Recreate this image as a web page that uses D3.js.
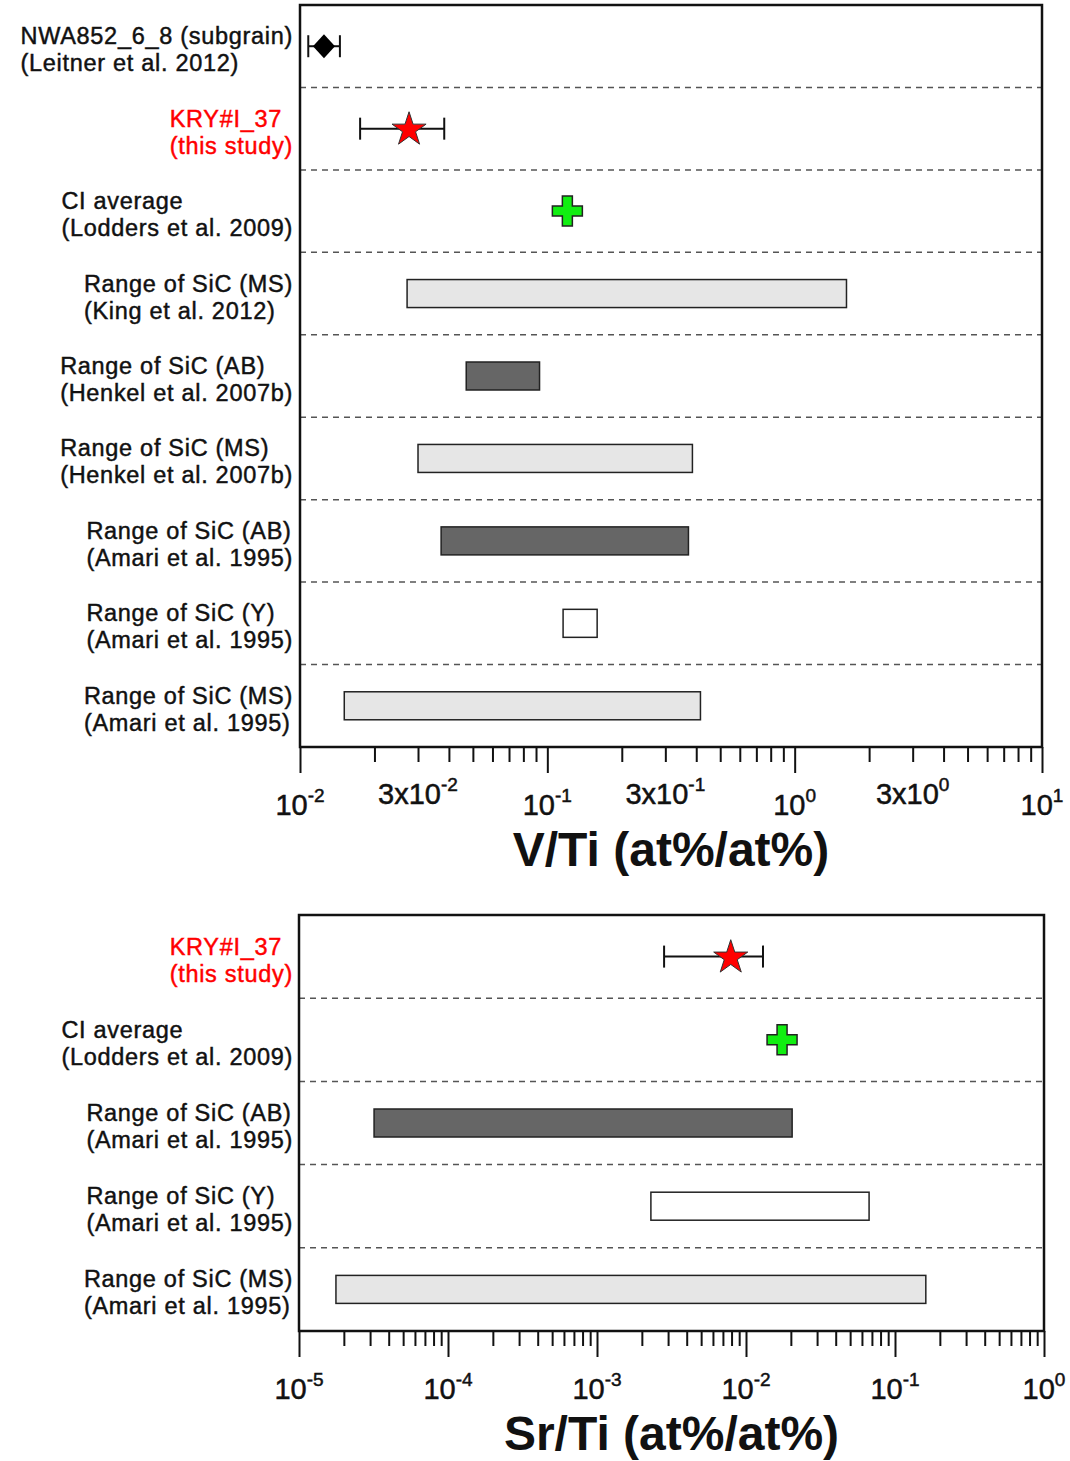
<!DOCTYPE html>
<html>
<head>
<meta charset="utf-8">
<script src="https://cdn.jsdelivr.net/npm/d3@7"></script>
<style>
body { margin: 0; background: #fff; }
svg { display: block; font-family: 'Liberation Sans', Arial, sans-serif; }
</style>
</head>
<body>
<script>
// V/Ti panel data
var vtiLabels = [
	['NWA852_6_8 (subgrain)', '(Leitner et al. 2012)'],
	['KRY#I_37', '(this study)'],
	['CI average', '(Lodders et al. 2009)'],
	['Range of SiC (MS)', '(King et al. 2012)'],
	['Range of SiC (AB)', '(Henkel et al. 2007b)'],
	['Range of SiC (MS)', '(Henkel et al. 2007b)'],
	['Range of SiC (AB)', '(Amari et al. 1995)'],
	['Range of SiC (Y)', '(Amari et al. 1995)'],
	['Range of SiC (MS)', '(Amari et al. 1995)']
];
var vtiKind = ['diamond', 'star', 'cross', 'ms', 'ab', 'ms', 'ab', 'y', 'ms'];
var vtiValue = [0.0125, 0.0276, 0.1205, null, null, null, null, null, null];
var vtiLow = [0.0108, 0.0175, null, 0.0271, 0.047, 0.030, 0.0372, 0.1158, 0.0151];
var vtiHigh = [0.0145, 0.0383, null, 1.62, 0.093, 0.386, 0.372, 0.159, 0.416];
var vtiTickValues = [0.01, 0.03, 0.1, 0.3, 1, 3, 10];
var vtiTickBase = ['10', '3x10', '10', '3x10', '10', '3x10', '10'];
var vtiTickExp = ['-2', '-2', '-1', '-1', '0', '0', '1'];

// Sr/Ti panel data
var srtiLabels = [
	['KRY#I_37', '(this study)'],
	['CI average', '(Lodders et al. 2009)'],
	['Range of SiC (AB)', '(Amari et al. 1995)'],
	['Range of SiC (Y)', '(Amari et al. 1995)'],
	['Range of SiC (MS)', '(Amari et al. 1995)']
];
var srtiKind = ['star', 'cross', 'ab', 'y', 'ms'];
var srtiValue = [0.0079, 0.01746, null, null, null];
var srtiLow = [0.00282, null, 3.19e-5, 0.0023, 1.77e-5];
var srtiHigh = [0.0130, null, 0.0204, 0.067, 0.161];
var srtiTickValues = [1e-5, 1e-4, 1e-3, 1e-2, 1e-1, 1];
var srtiTickBase = ['10', '10', '10', '10', '10', '10'];
var srtiTickExp = ['-5', '-4', '-3', '-2', '-1', '0'];

var fills = { ms: '#e6e6e6', ab: '#666666', y: '#ffffff' };

var svg = d3.select('body').append('svg')
	.attr('width', 1070)
	.attr('height', 1461);

function drawPanel(p) {
	var n = p.labels.length;
	var x = d3.scaleLog().domain(p.domain).range([p.left, p.right]);
	var y = d3.scaleBand().domain(d3.range(n)).range([p.top, p.bottom]);
	var g = svg.append('g');

	// dashed row separators
	g.selectAll('.sep')
		.data(d3.range(1, n))
		.enter()
		.append('line')
			.attr('x1', p.left)
			.attr('x2', p.right)
			.attr('y1', function(i) { return y(i); })
			.attr('y2', function(i) { return y(i); })
			.attr('stroke', '#555')
			.attr('stroke-width', 1.5)
			.attr('stroke-dasharray', '6,5');

	// minor + major ticks
	var majors = [];
	var minors = [];
	var lo = Math.round(Math.log10(p.domain[0]));
	var hi = Math.round(Math.log10(p.domain[1]));
	for (var e = lo; e <= hi; e++) {
		majors.push(Math.pow(10, e));
		if (e < hi) {
			for (var m = 2; m <= 9; m++) minors.push(m * Math.pow(10, e));
		}
	}
	var minorAxis = d3.axisBottom(x).tickValues(minors).tickSize(15).tickFormat('');
	var majorAxis = d3.axisBottom(x).tickValues(majors).tickSize(26).tickFormat('');
	[minorAxis, majorAxis].forEach(function(ax) {
		var a = g.append('g')
			.attr('transform', 'translate(0,' + p.bottom + ')')
			.call(ax);
		a.select('.domain').remove();
		a.selectAll('line').attr('stroke', '#111').attr('stroke-width', 2);
	});

	// tick labels
	p.tickValues.forEach(function(v, i) {
		var isThree = p.tickBase[i] !== '10';
		var t = g.append('text')
			.attr('x', x(v))
			.attr('y', p.bottom + (isThree ? 57 : 68))
			.attr('text-anchor', 'middle')
			.attr('font-size', 29)
			.attr('fill', '#111')
			.attr('stroke', '#111')
			.attr('stroke-width', 0.5);
		t.append('tspan').text(p.tickBase[i]);
		t.append('tspan')
			.attr('font-size', 19)
			.attr('dy', -13)
			.text(p.tickExp[i]);
	});

	// axis title
	g.append('text')
		.attr('x', (p.left + p.right) / 2)
		.attr('y', p.titleY)
		.attr('text-anchor', 'middle')
		.attr('font-size', 48)
		.attr('font-weight', 'bold')
		.attr('fill', '#111')
		.text(p.title);

	// row labels, lines left-aligned, block right-aligned
	p.labels.forEach(function(lines, i) {
		var cy = y(i) + y.bandwidth() / 2;
		var lg = g.append('g');
		var col = p.kind[i] === 'star' ? '#ff0000' : '#111';
		lines.forEach(function(s, j) {
			lg.append('text')
				.attr('x', 0)
				.attr('y', cy - 2 + j * 27)
				.attr('font-size', 23.5)
				.attr('letter-spacing', 0.7)
				.attr('fill', col)
				.attr('stroke', col)
				.attr('stroke-width', 0.45)
				.text(s);
		});
		var w = lg.node().getBBox().width;
		lg.attr('transform', 'translate(' + (293 - w) + ',0)');
	});

	// marks
	p.kind.forEach(function(k, i) {
		var cy = y(i) + y.bandwidth() / 2;
		if (fills[k]) {
			g.append('rect')
				.attr('x', x(p.low[i]))
				.attr('y', cy - 14)
				.attr('width', x(p.high[i]) - x(p.low[i]))
				.attr('height', 28)
				.attr('fill', fills[k])
				.attr('stroke', '#222')
				.attr('stroke-width', 1.5);
			return;
		}
		if (p.low[i] != null) {
			g.append('line')
				.attr('x1', x(p.low[i])).attr('x2', x(p.high[i]))
				.attr('y1', cy).attr('y2', cy)
				.attr('stroke', '#111').attr('stroke-width', 2);
			[p.low[i], p.high[i]].forEach(function(v) {
				g.append('line')
					.attr('x1', x(v)).attr('x2', x(v))
					.attr('y1', cy - 11).attr('y2', cy + 11)
					.attr('stroke', '#111').attr('stroke-width', 2);
			});
		}
		var cx = x(p.value[i]);
		if (k === 'diamond') {
			g.append('path')
				.attr('d', 'M0,-12L11,0L0,12L-11,0Z')
				.attr('transform', 'translate(' + cx + ',' + cy + ')')
				.attr('fill', '#000');
		}
		else if (k === 'star') {
			g.append('path')
				.attr('d', d3.symbol().type(d3.symbolStar).size(360)())
				.attr('transform', 'translate(' + cx + ',' + (cy + 1) + ')')
				.attr('fill', '#ff0000')
				.attr('stroke', '#333')
				.attr('stroke-width', 1);
		}
		else if (k === 'cross') {
			g.append('path')
				.attr('d', d3.symbol().type(d3.symbolCross).size(500)())
				.attr('transform', 'translate(' + cx + ',' + cy + ')')
				.attr('fill', '#11ee11')
				.attr('stroke', '#222')
				.attr('stroke-width', 1.5);
		}
	});

	// frame
	g.append('rect')
		.attr('x', p.left)
		.attr('y', p.top)
		.attr('width', p.right - p.left)
		.attr('height', p.bottom - p.top)
		.attr('fill', 'none')
		.attr('stroke', '#111')
		.attr('stroke-width', 2.5);
}

drawPanel({
	labels: vtiLabels, kind: vtiKind, value: vtiValue, low: vtiLow, high: vtiHigh,
	tickValues: vtiTickValues, tickBase: vtiTickBase, tickExp: vtiTickExp,
	domain: [0.01, 10], left: 300, right: 1042, top: 5, bottom: 747,
	title: 'V/Ti (at%/at%)', titleY: 866
});

drawPanel({
	labels: srtiLabels, kind: srtiKind, value: srtiValue, low: srtiLow, high: srtiHigh,
	tickValues: srtiTickValues, tickBase: srtiTickBase, tickExp: srtiTickExp,
	domain: [1e-5, 1], left: 299, right: 1044, top: 915, bottom: 1331,
	title: 'Sr/Ti (at%/at%)', titleY: 1450
});
</script>
</body>
</html>
